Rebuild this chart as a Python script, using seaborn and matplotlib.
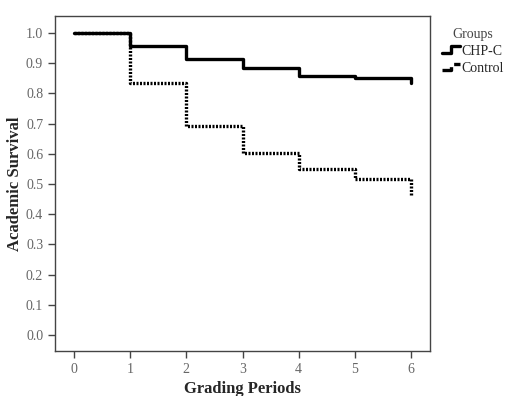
import matplotlib
matplotlib.use("Agg")
import matplotlib.pyplot as plt
from matplotlib.legend_handler import HandlerLine2D
from matplotlib.lines import Line2D
import numpy as np
import pandas as pd
import seaborn as sns

# step data (last point repeated at 6 for the final drop)
periods = [0, 1, 2, 3, 4, 5, 6, 6]
chp_c = [1.0, 0.958, 0.914, 0.885, 0.859, 0.852, 0.852, 0.833]
control = [1.0, 0.833, 0.692, 0.601, 0.548, 0.517, 0.517, 0.462]
x_ticks = [0, 1, 2, 3, 4, 5, 6]
y_ticks = [0.0, 0.1, 0.2, 0.3, 0.4, 0.5, 0.6, 0.7, 0.8, 0.9, 1.0]

df = pd.concat([
    pd.DataFrame({"period": periods, "surv": chp_c, "Groups": "CHP-C"}),
    pd.DataFrame({"period": periods, "surv": control, "Groups": "Control"}),
])

sns.set_style("white")
plt.rcParams['font.family'] = ['Liberation Serif', 'DejaVu Serif']

fig = plt.figure(figsize=(5.07, 3.96), dpi=100)
ax = fig.add_axes([55/507, 1 - 351/396, 375/507, 335/396])

styles = {"CHP-C": "-", "Control": (0, (0.6, 0.45))}
# control first so the solid line sits on top where they overlap
for name in ["Control", "CHP-C"]:
    sub = df[df["Groups"] == name]
    sns.lineplot(data=sub, x="period", y="surv", ax=ax, color="black",
                 estimator=None, sort=False, drawstyle="steps-post",
                 linewidth=2.4, linestyle=styles[name], legend=False)

ax.set_xlim(-0.34, 6.34)
ax.set_ylim(-0.053, 1.056)
ax.set_xticks(x_ticks)
ax.set_xticklabels([str(t) for t in x_ticks])
ax.set_yticks(y_ticks)
ax.set_yticklabels([f"{t:.1f}" for t in y_ticks])
ax.tick_params(axis="both", direction="out", length=5, width=1, color="#444444",
               labelcolor="#666666", labelsize=10, bottom=True, left=True)
for s in ax.spines.values():
    s.set_color("#444444")
    s.set_linewidth(1)
ax.set_xlabel("Grading Periods", fontsize=12, fontweight="bold", labelpad=4)
ax.set_ylabel("Academic Survival", fontsize=12, fontweight="bold", labelpad=2)


class StepHandler(HandlerLine2D):
    def create_artists(self, legend, orig_handle, xdescent, ydescent, width, height, fontsize, trans):
        x0 = -xdescent
        xs = [x0, x0 + width * 0.5, x0 + width * 0.5, x0 + width]
        ys = [-ydescent + height * 0.15] * 2 + [-ydescent + height * 0.85] * 2
        ln = Line2D(xs, ys, color="black", linewidth=2.4, linestyle=orig_handle.get_linestyle())
        ln.set_transform(trans)
        return [ln]


handles = [Line2D([], [], color="black", linestyle=styles["CHP-C"]),
           Line2D([], [], color="black", linestyle=styles["Control"])]
leg = fig.legend(handles, ["CHP-C", "Control"], title="Groups",
                 handler_map={Line2D: StepHandler()},
                 loc="upper left", bbox_to_anchor=(436/507, 1 - 22/396),
                 frameon=False, fontsize=10, title_fontsize=10,
                 handlelength=1.3, handletextpad=0.1, borderaxespad=0,
                 labelspacing=0.3)
leg.get_title().set_color("#444444")

fig.savefig("out.png", dpi=100)
